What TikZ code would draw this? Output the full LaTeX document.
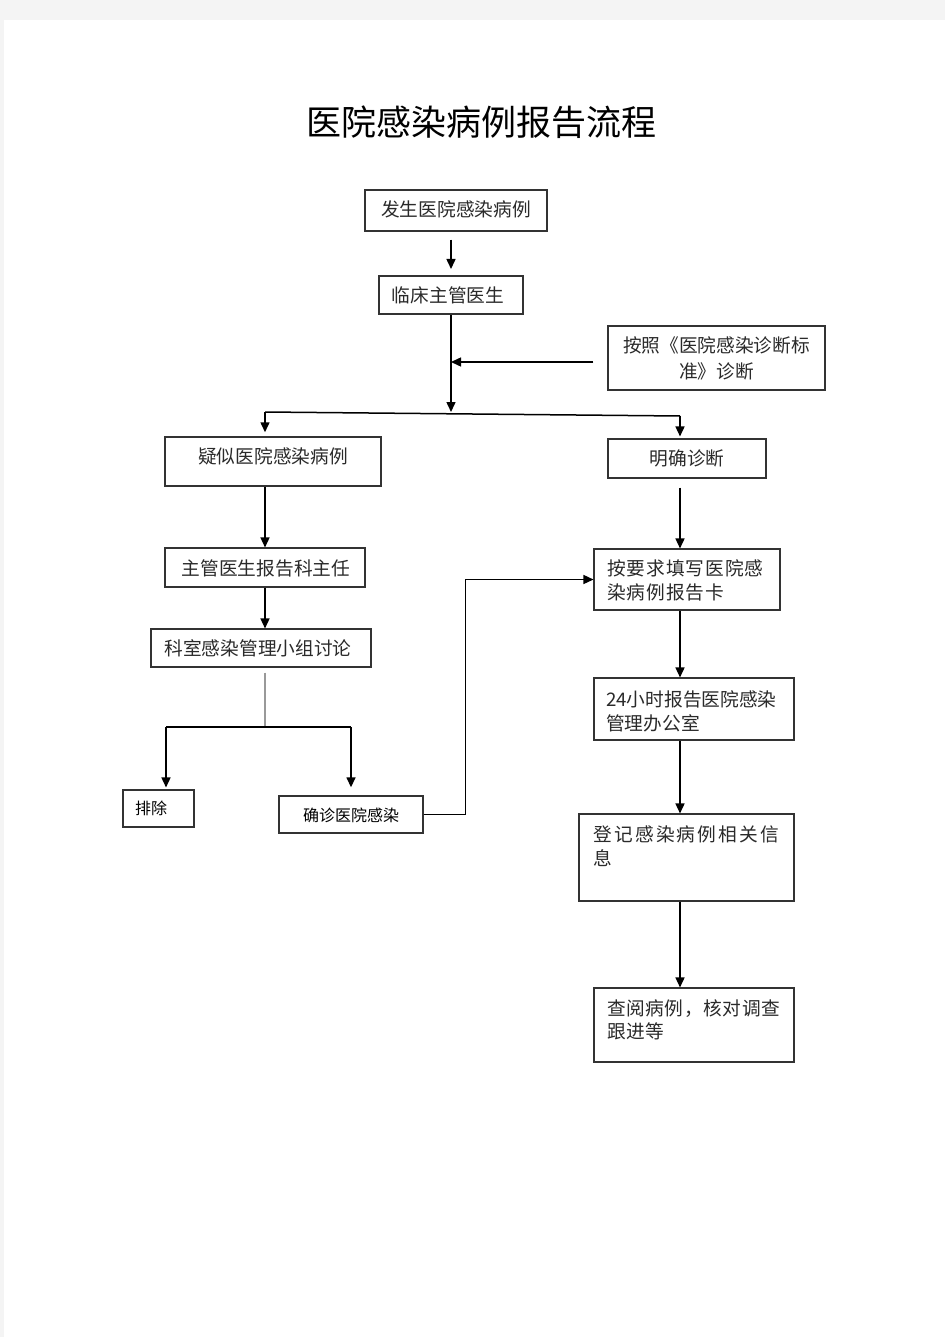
\documentclass[tikz,border=0pt]{standalone}
\usepackage{fontspec}
\setmainfont{Noto Sans CJK SC}
\newfontfamily\cjk{Noto Sans CJK SC}
\newfontfamily\cjkwa[LetterSpace=5]{Noto Sans CJK SC}
\newfontfamily\cjkwb[LetterSpace=12]{Noto Sans CJK SC}
\newfontfamily\cjkwc[LetterSpace=3]{Noto Sans CJK SC}
\usetikzlibrary{arrows.meta}
\definecolor{pagebg}{HTML}{F4F4F4}
\definecolor{txt}{HTML}{2A2A2A}
\definecolor{frame}{HTML}{333333}
\tikzset{
  x=1pt, y=-1pt,
  box/.style={draw=frame, line width=1.1pt, inner sep=0pt, rectangle},
  thickbox/.style={box, line width=2pt},
  lbl/.style={inner sep=0pt, text=txt, font=\cjk\fontsize{18.7}{24}\selectfont},
  slbl/.style={inner sep=0pt, text=black, font=\cjk\fontsize{16}{20}\selectfont},
  conn/.style={draw=black, line width=1.5pt},
  arr/.style={conn, -{Triangle[width=9pt,length=10pt]}},
}
\begin{document}
\begin{tikzpicture}
\useasboundingbox (0,0) rectangle (945,1337);
\fill[pagebg] (0,0) rectangle (945,1337);
\fill[white] (4,20) rectangle (945,1337);

% title
\node[inner sep=0pt, text=black, font=\cjk\fontsize{35}{40}\selectfont] (title) at (481,122) {医院感染病例报告流程};

% boxes
\node[box, minimum width=182pt, minimum height=41pt] (b1) at (456,210.5) {};
\node[thickbox, minimum width=144pt, minimum height=38pt] (b2) at (451,295) {};
\node[box, minimum width=217pt, minimum height=64pt] (diag) at (716.5,358) {};
\node[box, line width=1.5pt, minimum width=216pt, minimum height=49pt] (yisi) at (273,461.5) {};
\node[box, minimum width=158pt, minimum height=39pt] (ming) at (687,458.5) {};
\node[box, minimum width=200pt, minimum height=39pt] (zhuguan) at (265,567.5) {};
\node[box, minimum width=220pt, minimum height=38pt] (keshi) at (261,648) {};
\node[box, minimum width=71pt, minimum height=37pt] (paichu) at (158.5,808.5) {};
\node[box, line width=1.4pt, minimum width=144pt, minimum height=37pt] (quezhen) at (351,814.5) {};
\node[box, minimum width=186pt, minimum height=61pt] (tianxie) at (687,579.5) {};
\node[box, minimum width=200pt, minimum height=62pt] (h24) at (694,709) {};
\node[box, minimum width=215pt, minimum height=87pt] (dengji) at (686.5,857.5) {};
\node[box, minimum width=200pt, minimum height=74pt] (chayue) at (694,1025) {};

% texts
\node[lbl] (t1) at (456,209) {发生医院感染病例};
\node[lbl] (t2) at (448,295) {临床主管医生};
\node[lbl, align=center, font=\cjk\fontsize{18.7}{26}\selectfont] (tdiag) at (716.5,358) {按照《医院感染诊断标\\准》诊断};
\node[lbl] (tyisi) at (273,456) {疑似医院感染病例};
\node[lbl] (tming) at (687,458) {明确诊断};
\node[lbl] (tzhuguan) at (266,568) {主管医生报告科主任};
\node[lbl] (tkeshi) at (258,648) {科室感染管理小组讨论};
\node[slbl] (tpaichu) at (151,808) {排除};
\node[slbl] (tquezhen) at (351,815) {确诊医院感染};
\node[lbl, anchor=west, align=left, font=\cjkwa\fontsize{18.7}{24}\selectfont] (ttianxie) at (607,580) {按要求填写医院感\\染病例报告卡};
\node[lbl, anchor=west, align=left] (th24) at (606,711) {24小时报告医院感染\\管理办公室};
\node[lbl, anchor=west, align=left, font=\cjkwb\fontsize{18.7}{24}\selectfont] (tdengji) at (593,846) {登记感染病例相关信\\息};
\node[lbl, anchor=west, align=left, font=\cjkwc\fontsize{18.7}{23}\selectfont] (tchayue) at (607,1019.5) {查阅病例，核对调查\\跟进等};

% helper coordinates
\coordinate (sp) at (451,412);
\coordinate (j1) at (451,362);
\coordinate (sL) at (265,412);
\coordinate (sR) at (680,416);
\coordinate (rc) at (680,600);
\coordinate (jd) at (265,727);
\coordinate (jl) at (166,727);
\coordinate (jr) at (351,727);

% connectors
\draw[arr, shorten <=8pt, shorten >=6pt] (b1.south -| sp) -- (b2.north -| sp);
\draw[arr] (b2.south -| sp) -- (sp);
\draw[arr, shorten <=14pt] (j1 -| diag.west) -- (j1);
\draw[conn] (sL) -- (sR);
\draw[arr, shorten >=4pt] (sL) -- (sL |- yisi.north);
\draw[arr, shorten >=2pt] (sR) -- (sR |- ming.north);
\draw[arr] (sL |- yisi.south) -- (sL |- zhuguan.north);
\draw[arr] (sL |- zhuguan.south) -- (sL |- keshi.north);
\draw[draw=gray!80, line width=1.1pt, shorten <=5pt] (jd |- keshi.south) -- (jd);
\draw[conn] (jl) -- (jr);
\draw[arr, shorten >=2pt] (jl) -- (jl |- paichu.north);
\draw[arr, shorten >=8pt] (jr) -- (jr |- quezhen.north);
\draw[arr] (quezhen.east) -- ++(42,0) |- (tianxie.west);
\draw[arr, shorten <=9pt] (rc |- ming.south) -- (rc |- tianxie.north);
\draw[arr] (rc |- tianxie.south) -- (rc |- h24.north);
\draw[arr] (rc |- h24.south) -- (rc |- dengji.north);
\draw[arr] (rc |- dengji.south) -- (rc |- chayue.north);
\end{tikzpicture}
\end{document}
